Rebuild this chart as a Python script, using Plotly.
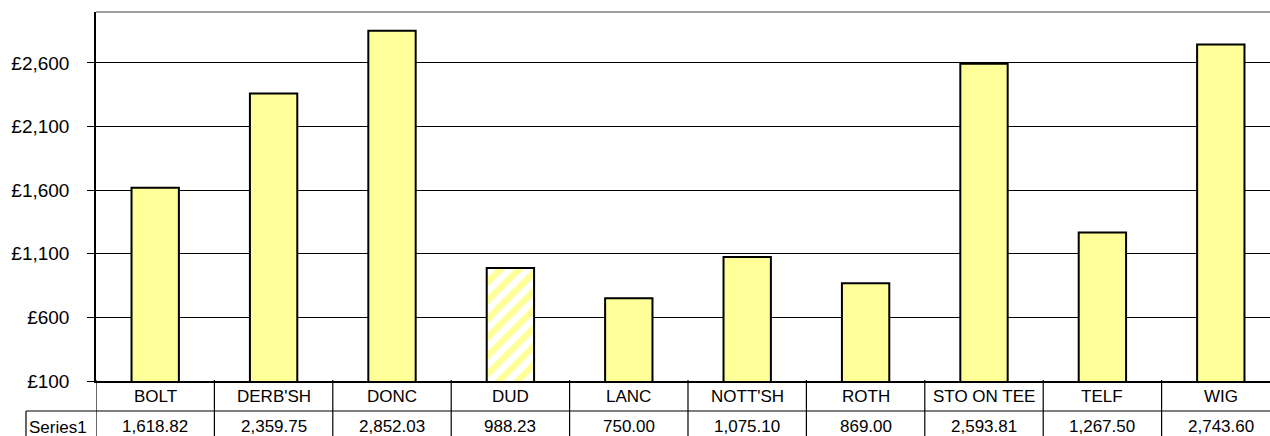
import plotly.graph_objects as go

categories = ["BOLT", "DERB'SH", "DONC", "DUD", "LANC", "NOTT'SH", "ROTH", "STO ON TEE", "TELF", "WIG"]
values = [1618.82, 2359.75, 2852.03, 988.23, 750.00, 1075.10, 869.00, 2593.81, 1267.50, 2743.60]
series_name = "Series1"
hatched = ["DUD"]
y_ticks = [100, 600, 1100, 1600, 2100, 2600]

W, H = 1270, 436
ML, MT, MB = 96, 12, 55
PW = W - ML
PH = H - MT - MB
COLW = 118.4
FONT = "Arial, Liberation Sans, sans-serif"

x_idx = list(range(len(categories)))
shapes_pat = ["/" if c in hatched else "" for c in categories]

fig = go.Figure()
fig.add_trace(go.Bar(
    x=x_idx, y=values, width=0.4,
    marker=dict(color="#FFFF99", line=dict(color="black", width=2),
                pattern=dict(shape=shapes_pat, fgcolor="#FFFF99", bgcolor="white",
                             size=13, solidity=0.5, fillmode="replace")),
    showlegend=False, hoverinfo="skip",
))

x_max = -0.5 + PW / COLW

shapes = []
# top border
shapes.append(dict(type="line", xref="paper", yref="paper", x0=0, x1=1, y0=1, y1=1,
                   line=dict(color="#808080", width=1.5)))
# vertical separators in data table
for k in range(len(categories) + 1):
    shapes.append(dict(type="line", xref="x", yref="paper", ysizemode="pixel", yanchor=0,
                       x0=k - 0.5, x1=k - 0.5, y0=1, y1=-70,
                       line=dict(color="black", width=1.2)))
# row line between category row and series row
xl = -70 / PW
shapes.append(dict(type="line", xref="paper", yref="paper", ysizemode="pixel", yanchor=0,
                   x0=xl, x1=1.02, y0=-30, y1=-30, line=dict(color="black", width=1.2)))
# left border of series label cell
shapes.append(dict(type="line", xref="paper", yref="paper", ysizemode="pixel", yanchor=0,
                   x0=xl, x1=xl, y0=-30, y1=-70, line=dict(color="black", width=1.2)))

annotations = []
for i, c in enumerate(categories):
    annotations.append(dict(x=i, y=0, xref="x", yref="paper", yshift=-15, text=c,
                            showarrow=False, xanchor="center", yanchor="middle",
                            font=dict(family=FONT, size=17, color="black")))
    annotations.append(dict(x=i, y=0, xref="x", yref="paper", yshift=-45,
                            text=f"{values[i]:,.2f}",
                            showarrow=False, xanchor="center", yanchor="middle",
                            font=dict(family=FONT, size=17, color="black")))
annotations.append(dict(x=xl, y=0, xref="paper", yref="paper", yshift=-46, xshift=1,
                        text=series_name, showarrow=False, xanchor="left", yanchor="middle",
                        font=dict(family=FONT, size=17, color="black")))

fig.update_layout(
    width=W, height=H,
    margin=dict(l=ML, r=0, t=MT, b=MB, pad=0),
    paper_bgcolor="white", plot_bgcolor="white",
    shapes=shapes, annotations=annotations,
    xaxis=dict(range=[-0.5, x_max], showticklabels=False, showgrid=False, zeroline=False,
               showline=True, linecolor="black", linewidth=1.5, ticks=""),
    yaxis=dict(range=[100, 3000], tickvals=y_ticks,
               ticktext=[f"£{v:,}" for v in y_ticks],
               showgrid=True, gridcolor="black", gridwidth=1, zeroline=False,
               showline=True, linecolor="black", linewidth=1.5,
               ticks="outside", ticklen=7, tickcolor="black", tickwidth=1.2,
               ticklabelstandoff=14,
               tickfont=dict(family=FONT, size=19, color="black")),
    bargap=0.6,
)

fig.write_html("out.html", config={"displayModeBar": False},
               post_script="document.body.style.margin='0';document.body.style.overflow='hidden';")
